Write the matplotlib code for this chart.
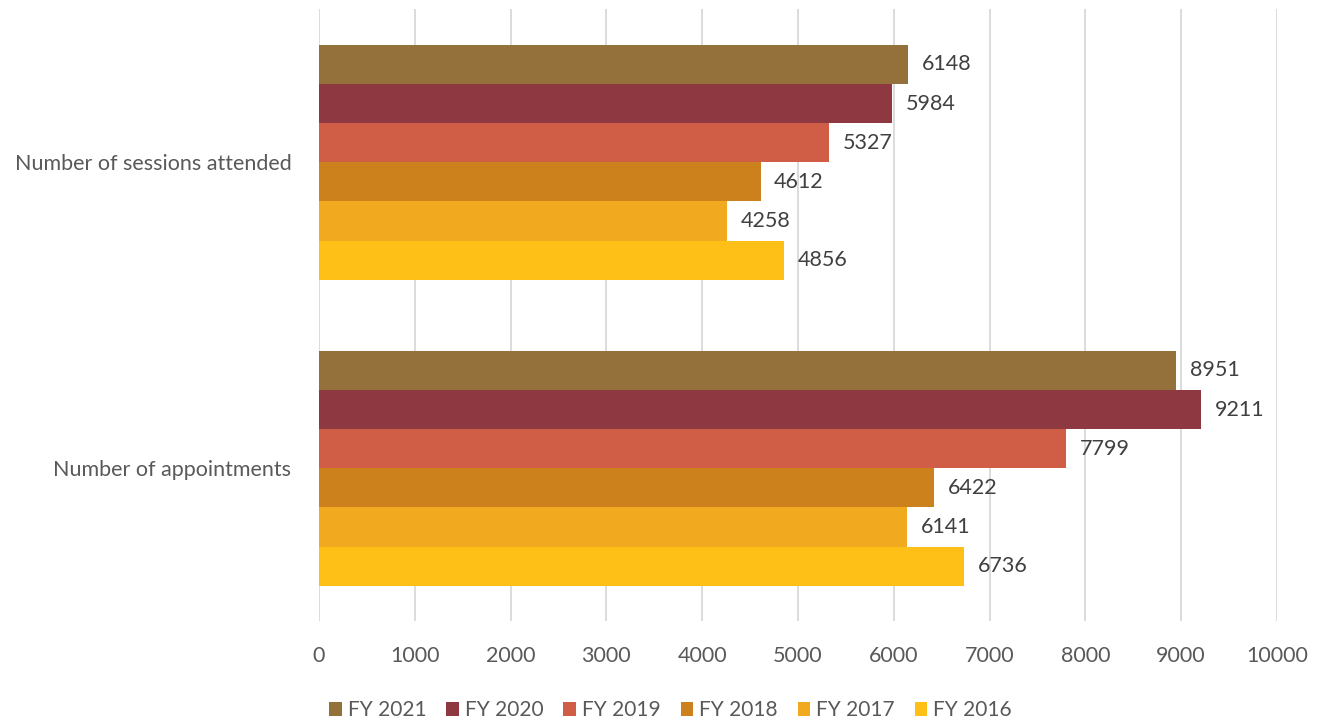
import matplotlib
matplotlib.use("Agg")
import matplotlib.pyplot as plt
import numpy as np

plt.rcParams["font.family"] = ["Lato", "DejaVu Sans"]

categories = ["Number of appointments", "Number of sessions attended"]
series = ["FY 2021", "FY 2020", "FY 2019", "FY 2018", "FY 2017", "FY 2016"]
# values per series: [appointments, sessions attended]
values = {
    "FY 2021": [8951, 6148],
    "FY 2020": [9211, 5984],
    "FY 2019": [7799, 5327],
    "FY 2018": [6422, 4612],
    "FY 2017": [6141, 4258],
    "FY 2016": [6736, 4856],
}
colors = ["#94703A", "#8E3842", "#D05E46", "#CD811D", "#F1AA1F", "#FEC016"]
xticks = list(range(0, 10001, 1000))

TEXT = "#595959"
FS = 15.5
fig = plt.figure(figsize=(13.2, 7.19), dpi=100)
ax = fig.add_axes([0.2417, 0.136, 0.7257, 0.851])

h = 0.128
y = np.arange(len(categories))
for i, (name, col) in enumerate(zip(series, colors)):
    offs = (2.5 - i) * h
    ax.barh(y + offs, values[name], height=h, color=col, label=name, zorder=3)
    for yy, v in zip(y + offs, values[name]):
        ax.text(v + 140, yy, f"{v}", va="center", ha="left", fontsize=FS, color="#404040")

ax.set_ylim(-0.5, 1.5)
ax.set_xlim(0, 10000)
ax.set_xticks(xticks)
ax.set_xticklabels([str(t) for t in xticks], fontsize=FS, color=TEXT)
ax.set_yticks(y)
ax.set_yticklabels(categories, fontsize=FS, color=TEXT)
ax.tick_params(axis="both", length=0)
ax.tick_params(axis="x", pad=18)
ax.tick_params(axis="y", pad=20)
ax.grid(axis="x", color="#D9D9D9", lw=1.3, zorder=0)
for s in ax.spines.values():
    s.set_visible(False)

fig.legend(loc="lower center", bbox_to_anchor=(0.508, -0.028), ncol=6, frameon=False,
           fontsize=15, handlelength=0.6, handleheight=0.6, handletextpad=0.3,
           columnspacing=0.95, labelcolor=TEXT)

fig.savefig("out.png", dpi=100)
